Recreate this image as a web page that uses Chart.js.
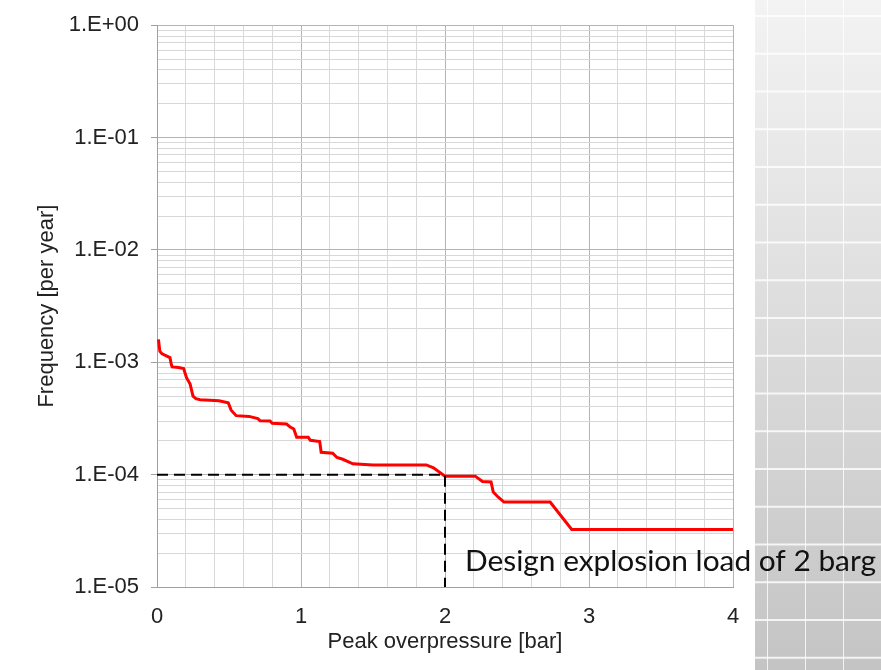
<!DOCTYPE html>
<html>
<head>
<meta charset="utf-8">
<script src="https://cdn.jsdelivr.net/npm/chart.js@4/dist/chart.umd.min.js"></script>
<style>
    body { margin: 0; background: #fff; }
    #wrap { position: relative; width: 881px; height: 670px; overflow: hidden; background: #fff; }
    #tiles {
        position: absolute; left: 755px; top: 0; width: 126px; height: 670px;
        background-image:
            linear-gradient(90deg, rgba(255,255,255,0.8) 1.5px, transparent 1.5px),
            linear-gradient(180deg, rgba(255,255,255,0.8) 1.5px, transparent 1.5px),
            linear-gradient(180deg, #f3f3f3, #c4c4c4);
        background-size: 38px 37.75px, 38px 37.75px, 100% 100%;
        background-position: 12px 0, 0 15px, 0 0;
    }
    canvas { position: absolute; left: 0; top: 0; }
</style>
</head>
<body>
<div id="wrap">
    <div id="tiles"></div>
    <canvas id="riskChart" width="881" height="670"></canvas>
</div>
<script>
// exceedance curve
const pressure = [0.01, 0.02, 0.035, 0.09, 0.10, 0.105, 0.15, 0.185, 0.205, 0.23, 0.25, 0.27, 0.30, 0.43, 0.495,
    0.515, 0.55, 0.64, 0.70, 0.715, 0.785, 0.80, 0.90, 0.925, 0.95, 0.97, 1.05, 1.065, 1.13, 1.14, 1.22, 1.25,
    1.29, 1.36, 1.50, 1.87, 1.92, 2.0, 2.21, 2.26, 2.32, 2.335, 2.37, 2.41, 2.73, 2.88, 4.0];
const frequency = [1.6e-3, 1.25e-3, 1.19e-3, 1.1e-3, 9.5e-4, 9.1e-4, 9.0e-4, 8.8e-4, 7.3e-4, 6.4e-4, 5.0e-4, 4.75e-4, 4.65e-4, 4.55e-4, 4.35e-4,
    3.75e-4, 3.35e-4, 3.3e-4, 3.15e-4, 3.02e-4, 3.0e-4, 2.86e-4, 2.82e-4, 2.65e-4, 2.55e-4, 2.15e-4, 2.15e-4, 2.02e-4, 1.97e-4, 1.58e-4, 1.55e-4, 1.42e-4,
    1.37e-4, 1.25e-4, 1.22e-4, 1.22e-4, 1.15e-4, 9.7e-5, 9.7e-5, 8.7e-5, 8.6e-5, 7.0e-5, 6.3e-5, 5.7e-5, 5.7e-5, 3.25e-5, 3.25e-5];

// design load guide line
const designX = [0, 2, 2];
const designY = [1e-4, 1e-4, 1e-5];
const designLabel = "Design explosion load of 2 barg";

// axes
const yDecades = [1e-5, 1e-4, 1e-3, 1e-2, 1e-1, 1];
const yMinorSteps = [2, 3, 4, 5, 6, 7, 8, 9];
const xMin = 0, xMax = 4, xStep = 0.2;

function isDecade(v) {
    var l = Math.log10(v);
    return Math.abs(l - Math.round(l)) < 1e-6;
}

function isWhole(v) {
    return Math.abs(v - Math.round(v)) < 1e-6;
}

function formatExp(v) {
    var e = Math.round(Math.log10(v));
    var a = Math.abs(e);
    return "1.E" + (e < 0 ? "-" : "+") + (a < 10 ? "0" : "") + a;
}

const labelPlugin = {
    id: 'designLabel',
    afterDatasetsDraw(chart) {
        const ctx = chart.ctx;
        const x = chart.scales.x.getPixelForValue(designX[1]) + 20;
        const y = chart.chartArea.bottom - 16;
        ctx.save();
        ctx.font = "28px Lato";
        ctx.fillStyle = "#111";
        ctx.textBaseline = "alphabetic";
        const w = ctx.measureText(designLabel).width;
        ctx.translate(x, y);
        ctx.scale(411 / w, 1);
        ctx.fillText(designLabel, 0, 0);
        ctx.restore();
    }
};

const tickFont = { family: "'Liberation Sans', Arial, sans-serif", size: 22 };

new Chart(document.getElementById('riskChart').getContext('2d'), {
    type: 'line',
    data: {
        datasets: [{
            data: designX.map((x, i) => ({ x: x, y: designY[i] })),
            borderColor: '#000',
            borderWidth: 2,
            borderDash: [11, 6],
            pointRadius: 0,
            order: 0
        }, {
            data: pressure.map((x, i) => ({ x: x, y: frequency[i] })),
            borderColor: '#ff0000',
            borderWidth: 3,
            pointRadius: 0,
            tension: 0,
            order: 1
        }]
    },
    options: {
        responsive: false,
        animation: false,
        layout: { padding: { top: 22, right: 148, left: 0, bottom: 0 } },
        plugins: { legend: { display: false }, tooltip: { enabled: false } },
        scales: {
            x: {
                type: 'linear',
                min: xMin,
                max: xMax,
                afterFit: function (scale) { scale.height = 83; },
                ticks: {
                    stepSize: xStep,
                    autoSkip: false,
                    maxRotation: 0,
                    padding: 17,
                    color: '#222',
                    font: tickFont,
                    callback: function (v) { return isWhole(v) ? String(Math.round(v)) : ''; }
                },
                grid: {
                    drawTicks: false,
                    color: ctx => (ctx.tick && isWhole(ctx.tick.value)) ? '#b4b4b4' : '#d8d8d8'
                },
                border: { color: '#a0a0a0' },
                title: {
                    display: true,
                    text: 'Peak overpressure [bar]',
                    color: '#222',
                    font: tickFont,
                    padding: { top: 0, bottom: 15 }
                }
            },
            y: {
                type: 'logarithmic',
                min: yDecades[0],
                max: yDecades[yDecades.length - 1],
                afterFit: function (scale) { scale.width = 157; },
                afterBuildTicks: function (scale) {
                    var t = [];
                    yDecades.forEach(function (d, i) {
                        t.push({ value: d });
                        if (i < yDecades.length - 1) {
                            yMinorSteps.forEach(function (s) { t.push({ value: d * s }); });
                        }
                    });
                    scale.ticks = t;
                },
                ticks: {
                    autoSkip: false,
                    padding: 12,
                    color: '#222',
                    font: tickFont,
                    callback: function (v) { return isDecade(v) ? formatExp(v) : ''; }
                },
                grid: {
                    tickLength: 6,
                    color: ctx => (ctx.tick && isDecade(ctx.tick.value)) ? '#b4b4b4' : '#d8d8d8',
                    tickColor: ctx => (ctx.tick && isDecade(ctx.tick.value)) ? '#a0a0a0' : 'rgba(0,0,0,0)'
                },
                border: { color: '#a0a0a0' },
                title: {
                    display: true,
                    text: 'Frequency [per year]',
                    color: '#222',
                    font: tickFont,
                    padding: { top: 34, bottom: 0 }
                }
            }
        }
    },
    plugins: [labelPlugin]
});
</script>
</body>
</html>
